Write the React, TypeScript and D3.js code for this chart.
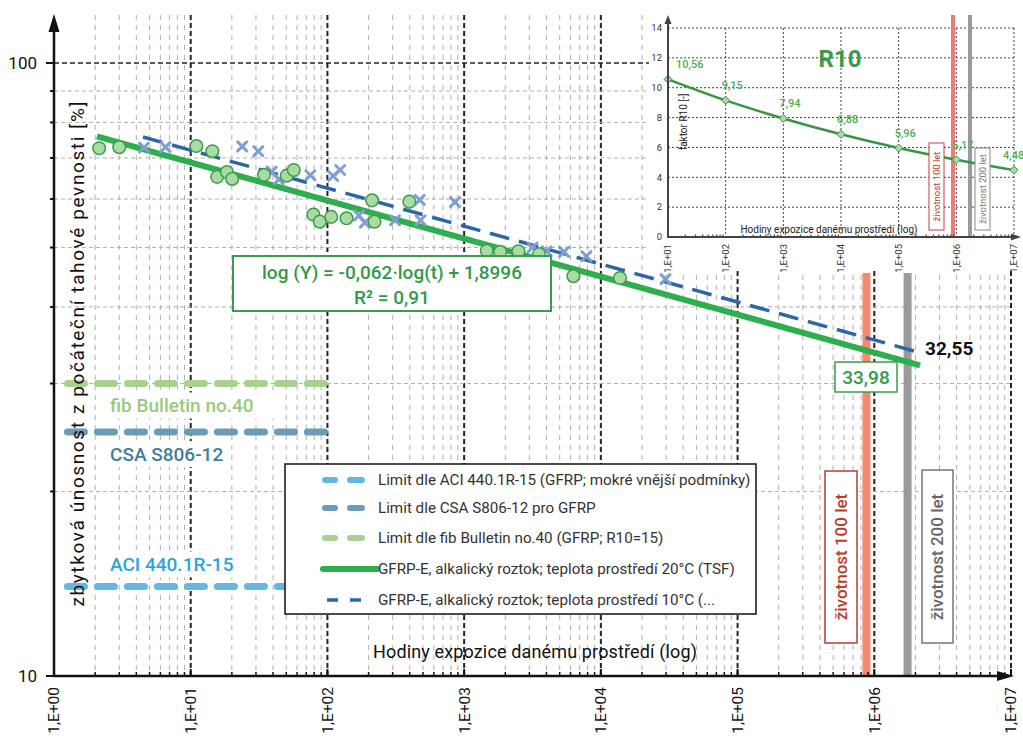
import React from "react";
import * as d3 from "d3";

// ---------- data ----------
const hoursGreen = [2.14, 3.0, 11.0, 14.4, 15.6, 18.4, 20.1, 34.4, 50.4, 56.7, 78.9, 87.9, 106.6, 138, 212, 221, 397, 1463, 1832, 2494, 3532, 6295, 13800];
const pctGreen = [72.6, 72.9, 73.2, 71.8, 65.2, 66.4, 64.7, 65.7, 65.5, 66.9, 56.6, 55.1, 56.1, 55.8, 59.7, 55.1, 59.4, 49.4, 49.2, 49.3, 48.8, 44.9, 44.6];
const hoursBlue = [4.55, 6.54, 23.8, 31.2, 39.1, 44.1, 75, 110, 124, 170, 188, 312, 473, 480, 857, 3166, 4018, 5379, 7834, 29700];
const pctBlue = [72.8, 72.9, 73.1, 71.8, 66.5, 64.6, 65.6, 65.4, 66.9, 56.4, 54.9, 55.4, 59.8, 55.4, 59.3, 50.0, 49.3, 49.2, 48.4, 44.4];

const fitGreen = { slope: -0.062, intercept: 1.8996, tStart: 2.06, tEnd: 2.16e6 };
const fitBlue = { slope: -0.0619, intercept: 1.9196, tStart: 4.48, tEnd: 2.05e6 };

const limitLabels = ["fib Bulletin no.40", "CSA S806-12", "ACI 440.1R-15"];
const limitValues = [30, 25, 14];
const limitColors = ["#a9d18e", "#6b9bb5", "#63b7e3"];
const limitTextColors = ["#9cc97a", "#3e7e98", "#31a3d8"];

const xTickLabels = ["1,E+00", "1,E+01", "1,E+02", "1,E+03", "1,E+04", "1,E+05", "1,E+06", "1,E+07"];
const yTickValues = [10, 100];
const yMinorValues = [20, 30, 40, 50, 60, 70, 80, 90];

const life100 = 876000;
const life200 = 1752000;

const legendLabels = [
  "Limit dle ACI 440.1R-15 (GFRP; mokré vnější podmínky)",
  "Limit dle CSA S806-12 pro GFRP",
  "Limit dle fib Bulletin no.40 (GFRP; R10=15)",
  "GFRP-E, alkalický roztok; teplota prostředí 20°C (TSF)",
  "GFRP-E, alkalický roztok; teplota prostředí 10°C (...",
];

// inset
const insetHours = [1e1, 1e2, 1e3, 1e4, 1e5, 1e6, 1e7];
const insetR10 = [10.56, 9.15, 7.94, 6.88, 5.96, 5.17, 4.48];
const insetLabels = ["10,56", "9,15", "7,94", "6,88", "5,96", "5,17", "4,48"];
const insetYTicks = [0, 2, 4, 6, 8, 10, 12, 14];
const insetXTickLabels = ["1,E+01", "1,E+02", "1,E+03", "1,E+04", "1,E+05", "1,E+06", "1,E+07"];

const FONT = "Roboto, 'DejaVu Sans', sans-serif";

export default function App() {
  const x = d3.scaleLog().domain([1, 1e7]).range([54, 1011]);
  const y = d3.scaleLog().domain([10, 100]).range([676, 63]);

  const minorX: number[] = [];
  for (let d = 0; d < 7; d++) for (let k = 2; k <= 9; k++) minorX.push(k * Math.pow(10, d));
  const majorX = d3.range(0, 8).map((d) => Math.pow(10, d));

  const fitLine = (f: typeof fitGreen) => {
    const ts = [f.tStart, f.tEnd];
    return d3
      .line<number>()
      .x((t) => x(t))
      .y((t) => y(Math.pow(10, f.slope * Math.log10(t) + f.intercept)))(ts) as string;
  };

  const valAt = (f: typeof fitGreen, t: number) => Math.pow(10, f.slope * Math.log10(t) + f.intercept);

  // inset scales
  const xi = d3.scaleLog().domain([10, 1e7]).range([668, 1014]);
  const yi = d3.scaleLinear().domain([0, 14]).range([237, 28]);
  const insetPath = d3
    .line<number>()
    .x((_, i) => xi(insetHours[i]))
    .y((v) => yi(v))
    .curve(d3.curveMonotoneX)(insetR10) as string;
  const insetMinorX: number[] = [];
  for (let d = 1; d < 7; d++) for (let k = 2; k <= 9; k++) insetMinorX.push(k * Math.pow(10, d));

  const legendY = [480, 508, 538, 569, 600];
  const limitLabelBg = [
    { w: 170, h: 26 },
    { w: 122, h: 26 },
    { w: 130, h: 26 },
  ];

  return (
    <svg width={1023} height={738} style={{ position: "absolute", left: 0, top: 0, background: "#fff" }} fontFamily={FONT}>
      <rect x={0} y={0} width={1023} height={738} fill="#fff" />
      {/* vertical grid */}
      {minorX.map((v, i) => (
        <line key={"mx" + i} x1={x(v)} x2={x(v)} y1={15} y2={676} stroke="#b0b0b0" strokeWidth={1} strokeDasharray="5 5" />
      ))}
      {majorX.slice(1).map((v, i) => (
        <line key={"Mx" + i} x1={x(v)} x2={x(v)} y1={15} y2={676} stroke="#222" strokeWidth={2} strokeDasharray="5 3" />
      ))}
      {/* horizontal grid */}
      {yMinorValues.map((v, i) => (
        <line key={"hy" + i} x1={54} x2={1011} y1={y(v)} y2={y(v)} stroke="#b0b0b0" strokeWidth={1} strokeDasharray="4 3" />
      ))}
      <line x1={54} x2={1011} y1={y(100)} y2={y(100)} stroke="#222" strokeWidth={1.5} strokeDasharray="5 3" />

      {/* life bands */}
      <line x1={x(life100)} x2={x(life100)} y1={273} y2={676} stroke="#f4896b" strokeWidth={8} />
      <line x1={x(life200)} x2={x(life200)} y1={273} y2={676} stroke="#9a9a9a" strokeWidth={8} />

      {/* limit lines (drawn right to left so the last dash ends at 100 h) */}
      {limitValues.map((v, i) => (
        <line key={"lim" + i} x1={x(100) - 3} x2={x(1) + 2} y1={y(v)} y2={y(v)} stroke={limitColors[i]} strokeWidth={7} strokeDasharray="17 13" strokeLinecap="round" />
      ))}
      {limitLabels.map((t, i) => {
        const ly = y(limitValues[i]) + (i === 2 ? -22 : 22);
        return (
          <g key={"liml" + i}>
            <rect x={104} y={ly - limitLabelBg[i].h / 2} width={limitLabelBg[i].w} height={limitLabelBg[i].h} fill="#fff" />
            <text x={110} y={ly} dy="0.35em" fontSize={19} fontWeight={500} fill={limitTextColors[i]}>
              {t}
            </text>
          </g>
        );
      })}

      {/* fit lines */}
      <path d={fitLine(fitGreen)} stroke="#2fae4e" strokeWidth={6} fill="none" />
      <path d={fitLine(fitBlue)} stroke="#2b66a8" strokeWidth={3.5} fill="none" strokeDasharray="20 10" />

      {/* data points */}
      {hoursBlue.map((h, i) => {
        const cx = x(h), cy = y(pctBlue[i]), s = 4.5;
        return (
          <g key={"b" + i} stroke="#7f9fd3" strokeWidth={3} strokeLinecap="round">
            <line x1={cx - s} y1={cy - s} x2={cx + s} y2={cy + s} />
            <line x1={cx - s} y1={cy + s} x2={cx + s} y2={cy - s} />
          </g>
        );
      })}
      {hoursGreen.map((h, i) => (
        <circle key={"g" + i} cx={x(h)} cy={y(pctGreen[i])} r={6.3} fill="#a8dca2" stroke="#3c9c4c" strokeWidth={1.5} />
      ))}

      {/* equation box */}
      <rect x={233} y={256} width={318} height={55} fill="#fff" stroke="#3c9c4c" strokeWidth={2} />
      <text x={392} y={272} dy="0.35em" textAnchor="middle" fontSize={19} fontWeight={500} fill="#2f9a48">
        log (Y) = -0,062·log(t) + 1,8996
      </text>
      <text x={392} y={297} dy="0.35em" textAnchor="middle" fontSize={19} fontWeight={500} fill="#2f9a48">
        R² = 0,91
      </text>

      {/* value labels */}
      <rect x={835} y={362} width={62} height={30} fill="#fff" stroke="#3c9c4c" strokeWidth={1.5} />
      <text x={866} y={377} dy="0.35em" textAnchor="middle" fontSize={19} fontWeight={500} fill="#2f9a48">
        {valAt(fitGreen, life100).toFixed(2).replace(".", ",")}
      </text>
      <text x={925} y={348} dy="0.35em" fontSize={19} fontWeight={700} fill="#111">
        {valAt(fitGreen, life200).toFixed(2).replace(".", ",")}
      </text>

      {/* life boxes */}
      <rect x={825} y={471} width={32} height={172} fill="#fff" stroke="#b83a3a" strokeWidth={1.5} />
      <text transform="translate(841,557) rotate(-90)" textAnchor="middle" dy="0.35em" fontSize={17} fontWeight={500} fill="#c0392b">
        životnost 100 let
      </text>
      <rect x={922} y={470} width={31} height={173} fill="#fff" stroke="#777" strokeWidth={1.5} />
      <text transform="translate(937.5,557) rotate(-90)" textAnchor="middle" dy="0.35em" fontSize={17} fontWeight={500} fill="#666">
        životnost 200 let
      </text>

      {/* legend */}
      <rect x={285} y={464} width={471} height={150} fill="#fff" stroke="#111" strokeWidth={1.5} />
      {[0, 1, 2].map((i) => {
        const col = [limitColors[2], limitColors[1], limitColors[0]][i];
        return (
          <g key={"lg" + i}>
            <line x1={325} x2={335} y1={legendY[i]} y2={legendY[i]} stroke={col} strokeWidth={6} strokeLinecap="round" />
            <line x1={350} x2={362} y1={legendY[i]} y2={legendY[i]} stroke={col} strokeWidth={6} strokeLinecap="round" />
          </g>
        );
      })}
      <line x1={323} x2={377} y1={legendY[3]} y2={legendY[3]} stroke="#2fae4e" strokeWidth={6} strokeLinecap="round" />
      <line x1={327} x2={338} y1={legendY[4]} y2={legendY[4]} stroke="#2b66a8" strokeWidth={3.5} />
      <line x1={350} x2={361} y1={legendY[4]} y2={legendY[4]} stroke="#2b66a8" strokeWidth={3.5} />
      {legendLabels.map((t, i) => (
        <text key={"lt" + i} x={378} y={legendY[i]} dy="0.35em" fontSize={15.2} fill="#333">
          {t}
        </text>
      ))}

      {/* main axes */}
      <line x1={54} x2={54} y1={28} y2={677} stroke="#111" strokeWidth={2.5} />
      <path d="M54,14 L48.5,32 L59.5,32 Z" fill="#111" />
      <line x1={53} x2={1000} y1={676} y2={676} stroke="#111" strokeWidth={2.5} />
      <path d="M1014,676 L997,671 L997,681 Z" fill="#111" />
      {yMinorValues.map((v, i) => (
        <line key={"yt" + i} x1={50} x2={54} y1={y(v)} y2={y(v)} stroke="#111" strokeWidth={2} />
      ))}
      {yTickValues.map((v, i) => (
        <g key={"yT" + i}>
          <line x1={46} x2={54} y1={y(v)} y2={y(v)} stroke="#111" strokeWidth={2} />
          <text x={37} y={y(v)} dy="0.35em" textAnchor="end" fontSize={17} fill="#111">
            {v}
          </text>
        </g>
      ))}
      {minorX.map((v, i) => (
        <line key={"xt" + i} x1={x(v)} x2={x(v)} y1={672} y2={676} stroke="#111" strokeWidth={1.5} />
      ))}
      {majorX.map((v, i) => (
        <g key={"xT" + i}>
          <line x1={x(v)} x2={x(v)} y1={669} y2={676} stroke="#111" strokeWidth={2} />
          <text transform={`translate(${x(v)},687) rotate(-90)`} textAnchor="end" dy="0.35em" fontSize={15.5} fill="#111">
            {xTickLabels[i]}
          </text>
        </g>
      ))}
      <text x={535} y={652} dy="0.35em" textAnchor="middle" fontSize={18} textLength={324} lengthAdjust="spacing" fill="#111">
        Hodiny expozice danému prostředí (log)
      </text>
      <text transform="translate(77,354) rotate(-90)" textAnchor="middle" dy="0.35em" fontSize={19} textLength={505} lengthAdjust="spacing" fill="#111">
        zbytková únosnost z počáteční tahové pevnosti [%]
      </text>

      {/* ---------- inset ---------- */}
      <rect x={649} y={0} width={374} height={270} fill="#fff" />
      {insetYTicks.slice(1).map((v, i) => (
        <line key={"ig" + i} x1={668} x2={1014} y1={yi(v)} y2={yi(v)} stroke="#444" strokeWidth={1} strokeDasharray="2 2" />
      ))}
      {insetHours.slice(1).map((v, i) => (
        <line key={"igx" + i} x1={xi(v)} x2={xi(v)} y1={yi(14)} y2={237} stroke="#444" strokeWidth={1} strokeDasharray="2 2" />
      ))}
      <line x1={953} x2={953} y1={15} y2={237} stroke="#f07a7a" strokeWidth={4} />
      <line x1={970} x2={970} y1={15} y2={237} stroke="#9a9a9a" strokeWidth={4} />
      <text x={840} y={59} dy="0.35em" textAnchor="middle" fontSize={24} fontWeight={700} fill="#3a9a48">
        R10
      </text>
      <path d={insetPath} stroke="#3a9440" strokeWidth={2.5} fill="none" />
      {insetR10.map((v, i) => (
        <g key={"ip" + i}>
          <path d={`M${xi(insetHours[i])},${yi(v) - 4} l4,4 l-4,4 l-4,-4 Z`} fill="#a8dca2" stroke="#3a9440" strokeWidth={1} />
          <text x={xi(insetHours[i]) + (i === 0 ? 8 : i === 6 ? -11 : -4)} y={yi(v) - 15} dy="0.35em" fontSize={11} fontWeight={500} fill="#4caf50">
            {insetLabels[i]}
          </text>
        </g>
      ))}
      <rect x={929} y={143} width={15} height={87} fill="#fff" stroke="#c04040" strokeWidth={1} />
      <text transform="translate(936.5,186.5) rotate(-90)" textAnchor="middle" dy="0.35em" fontSize={9.5} fill="#c0392b">
        životnost 100 let
      </text>
      <rect x={975} y={148} width={15} height={82} fill="#fff" stroke="#888" strokeWidth={1} />
      <text transform="translate(982.5,189) rotate(-90)" textAnchor="middle" dy="0.35em" fontSize={9.5} fill="#777">
        životnost 200 let
      </text>
      {/* inset axes */}
      <line x1={668} x2={668} y1={22} y2={238} stroke="#444" strokeWidth={2} />
      <path d="M668,15 L664.5,24 L671.5,24 Z" fill="#444" />
      <line x1={667} x2={1012} y1={237} y2={237} stroke="#444" strokeWidth={2} />
      <path d="M1021,237 L1011,233.5 L1011,240.5 Z" fill="#444" />
      {insetMinorX.map((v, i) => (
        <line key={"imx" + i} x1={xi(v)} x2={xi(v)} y1={234.5} y2={237} stroke="#444" strokeWidth={1.2} />
      ))}
      {insetYTicks.map((v, i) => (
        <text key={"iyt" + i} x={662} y={yi(v)} dy="0.35em" textAnchor="end" fontSize={9.5} fill="#333">
          {v}
        </text>
      ))}
      {insetHours.map((v, i) => (
        <text key={"ixt" + i} transform={`translate(${xi(v)},244) rotate(-90)`} textAnchor="end" dy="0.35em" fontSize={9.5} fill="#333">
          {insetXTickLabels[i]}
        </text>
      ))}
      <text x={829} y={229} dy="0.35em" textAnchor="middle" fontSize={10} fill="#222">
        Hodiny expozice danému prostředí (log)
      </text>
      <text transform="translate(683,122) rotate(-90)" textAnchor="middle" dy="0.35em" fontSize={10} fill="#222">
        faktor R10 [-]
      </text>
    </svg>
  );
}
